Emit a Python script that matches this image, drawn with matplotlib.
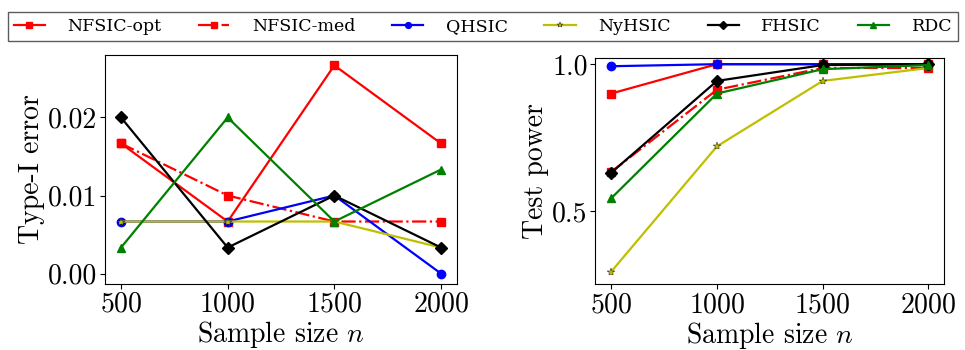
import matplotlib
matplotlib.use("Agg")
import matplotlib.pyplot as plt

plt.rcParams.update({
    "font.family": "serif",
    "font.serif": ["cmr10"],
    "mathtext.fontset": "cm",
    "axes.formatter.use_mathtext": True,
    "axes.unicode_minus": False,
})

sample_sizes = [500, 1000, 1500, 2000]
methods = ["NFSIC-opt", "NFSIC-med", "QHSIC", "NyHSIC", "FHSIC", "RDC"]

type1_nfsic_opt = [0.01667, 0.00667, 0.02667, 0.01667]
type1_nfsic_med = [0.01667, 0.01000, 0.00667, 0.00667]
type1_qhsic = [0.00667, 0.00667, 0.01000, 0.00000]
type1_nyhsic = [0.00667, 0.00667, 0.00667, 0.00333]
type1_fhsic = [0.02000, 0.00333, 0.01000, 0.00333]
type1_rdc = [0.00333, 0.02000, 0.00667, 0.01333]

power_nfsic_opt = [0.900, 1.000, 1.000, 1.000]
power_nfsic_med = [0.633, 0.913, 0.987, 0.987]
power_qhsic = [0.993, 1.000, 1.000, 1.000]
power_nyhsic = [0.293, 0.720, 0.943, 0.987]
power_fhsic = [0.630, 0.943, 0.997, 1.000]
power_rdc = [0.543, 0.900, 0.983, 0.997]

styles = {
    "NFSIC-opt": dict(color="r", marker="s", linestyle="-"),
    "NFSIC-med": dict(color="r", marker="s", linestyle="-."),
    "QHSIC": dict(color="b", marker="o", linestyle="-"),
    "NyHSIC": dict(color="y", marker="*", linestyle="-", markeredgecolor="k",
                   markeredgewidth=0.3),
    "FHSIC": dict(color="k", marker="D", linestyle="-"),
    "RDC": dict(color="g", marker="^", linestyle="-"),
}

type1 = dict(zip(methods, [type1_nfsic_opt, type1_nfsic_med, type1_qhsic,
                           type1_nyhsic, type1_fhsic, type1_rdc]))
power = dict(zip(methods, [power_nfsic_opt, power_nfsic_med, power_qhsic,
                           power_nyhsic, power_fhsic, power_rdc]))

fig = plt.figure(figsize=(9.65, 3.5), dpi=100)
ax1 = fig.add_axes([0.1088, 0.1886, 0.3648, 0.6543])
ax2 = fig.add_axes([0.6169, 0.1877, 0.3617, 0.6457])

handles = []
for m in methods:
    h, = ax1.plot(sample_sizes, type1[m], linewidth=1.6, markersize=6, **styles[m])
    ax2.plot(sample_sizes, power[m], linewidth=1.6, markersize=6, **styles[m])
    handles.append(h)

ax1.set_yticks([0.0, 0.01, 0.02])
ax1.set_yticklabels(["0.00", "0.01", "0.02"])
ax2.set_yticks([0.5, 1.0])
ax2.set_yticklabels(["0.5", "1.0"])
ax2.set_ylim(0.25, 1.02)

for ax, ylabel in ((ax1, "Type-I error"), (ax2, "Test power")):
    ax.set_xticks(sample_sizes)
    ax.set_xlabel(r"Sample size $n$", fontsize=20, labelpad=1)
    ax.set_ylabel(ylabel, fontsize=20, labelpad=2)
    ax.tick_params(labelsize=20, pad=2)

leg = fig.legend(handles, methods, loc="lower left", ncol=6,
                 bbox_to_anchor=(0.008, 0.883, 0.985, 0.1), mode="expand",
                 prop={"family": "DejaVu Serif", "size": 12.5},
                 frameon=True, fancybox=False, edgecolor="#333333",
                 markerscale=0.7, handlelength=1.8, handletextpad=1.3,
                 borderpad=0.35, borderaxespad=0.0)
leg.get_frame().set_linewidth(1.0)

fig.savefig("out.png", dpi=100)
